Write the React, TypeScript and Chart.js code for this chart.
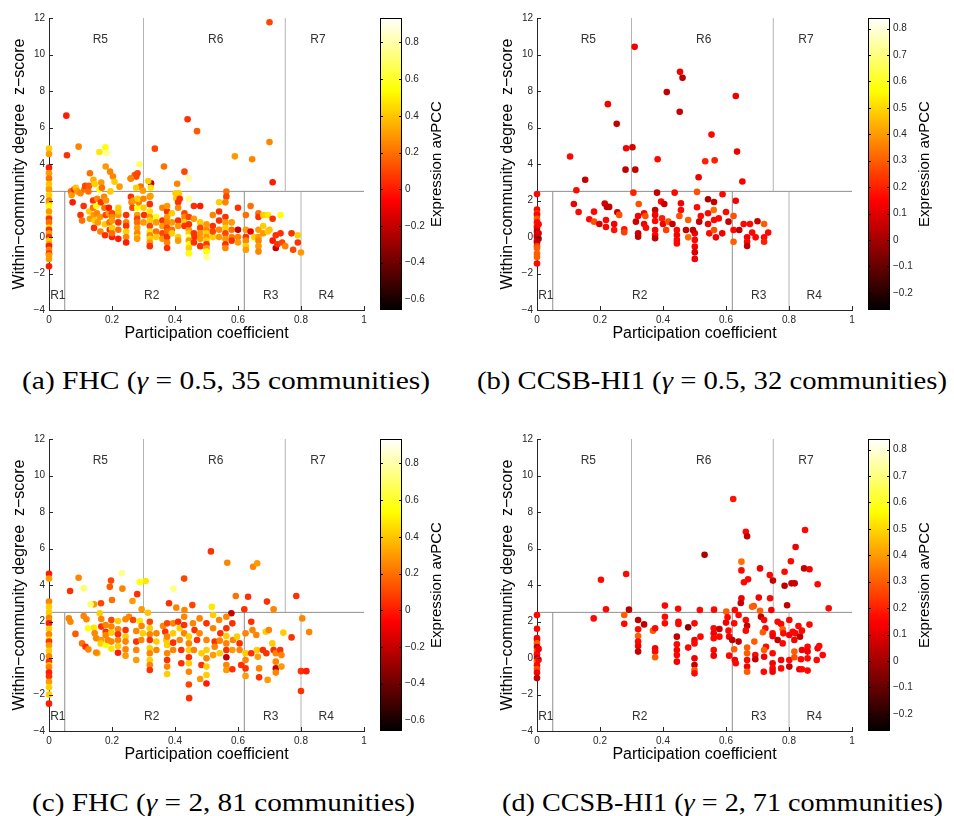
import React, { useEffect, useLayoutEffect, useRef } from "react";
import { Chart, registerables } from "chart.js";
Chart.register(...registerables);

type Pt = [number, number, number]; // [participation coefficient, z-score, avPCC]

const xTicks = [0, 0.2, 0.4, 0.6, 0.8, 1];
const yTicks = [-4, -2, 0, 2, 4, 6, 8, 10, 12];
const cbTicksFHC = [-0.6, -0.4, -0.2, 0, 0.2, 0.4, 0.6, 0.8];
const cbTicksCCSB = [-0.2, -0.1, 0, 0.1, 0.2, 0.3, 0.4, 0.5, 0.6, 0.7, 0.8];
const cbRangeFHC = [-0.658, 0.933];
const cbRangeCCSB = [-0.265, 0.84];

// region boundaries [x1, y1, x2, y2]
const regionLines = [
  [0.05, -4, 0.05, 2.5],
  [0.62, -4, 0.62, 2.5],
  [0.8, -4, 0.8, 2.5],
  [0.3, 2.5, 0.3, 12],
  [0.75, 2.5, 0.75, 12],
  [0, 2.5, 1, 2.5],
];
const regionNames = ["R1", "R2", "R3", "R4", "R5", "R6", "R7"];
const regionNameX = [0.028, 0.326, 0.704, 0.88, 0.163, 0.529, 0.854];
const regionNameY = [-3.24, -3.24, -3.24, -3.24, 10.79, 10.79, 10.79];

const fhcGamma05: Pt[] = [
  [0,4.85,0.42],[0,4.55,0.3],[0,3.8,0],[0,3.5,0.3],[0,3.2,0.2],[0,2.9,0.4],[0,2.7,0.42],[0,2.6,0.3],[0,2.3,0.42],[0,2.0,0.25],[0,1.85,0.3],[0,1.7,0.55],[0,1.4,0.3],[0,1.1,0.42],[0,1.0,0.05],[0,0.8,0.2],[0,0.5,0.48],[0,0.4,0.05],[0,0.2,0.3],[0,0,0.05],[0,-0.2,0.42],[0,-0.4,0.3],[0,-0.5,0],[0,-0.7,0.25],[0,-0.9,0.05],[0,-1.0,0.3],[0,-1.2,0.3],[0,-1.6,0],
  [0.70,11.77,0.1],[0.055,6.65,0],[0.44,6.45,0.05],[0.47,5.8,0.15],[0.70,5.2,0.25],[0.59,4.42,0.3],[0.645,4.26,0.25],[0.71,3.0,0],[0.057,4.48,0.05],[0.094,4.95,0.25],[0.16,4.66,0.48],[0.179,4.92,0.55],[0.183,4.6,0.75],[0.18,3.86,0.3],[0.287,3.99,0.7],[0.336,4.84,0.1],[0.365,3.86,0.2],[0.43,3.58,0.1],[0.444,3.22,0.8],[0.407,2.92,0.25],[0.324,2.94,-0.2],[0.315,3.07,0.42],[0.13,3.49,0.2],[0.141,3.13,0.35],[0.166,2.98,0.3],[0.194,3.58,0.25],[0.203,3.31,0.25],[0.208,3.03,0.42],[0.224,2.76,0.3],[0.259,3.2,0.25],[0.272,3.4,0.15],[0.281,3.49,0.1],[0.277,3.31,0.1],[0.291,2.76,0.2],[0.277,2.7,0.42],[0.298,2.54,0.3],[0.322,2.25,0.3],[0.323,2.7,0.48],[0.563,2.49,0.2],[0.563,2.21,0.1],[0.402,2.39,0.42],[0.404,2.12,0.42],
  [0.07,2.5,0.2],[0.072,2.3,0.3],[0.075,1.9,0],[0.08,2.6,0.05],[0.085,2.7,0.4],[0.09,2.5,0.3],[0.1,2.4,0.25],[0.1,1.2,0.05],[0.105,0.9,0.2],[0.11,1.7,0.05],[0.112,2.6,0.2],[0.115,2.8,0.1],
  [0.125,2.5,0.2],[0.127,2.8,0.15],[0.128,1.4,0.42],[0.13,1.0,0.3],[0.14,2.0,0.05],[0.14,1.6,0.2],[0.142,1.2,0.3],[0.143,0.5,0.05],[0.145,0.9,0.42],[0.145,2.9,0.42],
  [0.15,1.7,0.55],[0.152,1.3,0.25],[0.153,2.1,0.25],[0.155,0.8,0.3],[0.16,2.6,0.55],[0.162,1.1,0.3],[0.163,0.3,0.25],[0.165,1.9,0.05],[0.168,2.7,0.2],
  [0.175,2.2,0.25],[0.176,1.6,0.2],[0.177,0.7,0.42],[0.178,0.1,0.05],[0.18,1.2,0.1],[0.181,2.0,0.3],[0.19,1.3,0.3],[0.19,1.6,0],[0.192,0.8,0.2],[0.193,0.4,0.05],[0.195,2.5,0.42],
  [0.2,1.3,0.1],[0.2,1.1,0.25],[0.2,0.9,0.3],[0.2,0.5,0.42],[0.2,0,0],[0.2,0.2,0.2],
  [0.22,1.6,0.42],[0.22,1.2,0.3],[0.22,0.8,0.05],[0.22,0.4,0.2],[0.22,1.4,0.4],[0.22,-0.1,0],
  [0.245,1.2,0.05],[0.245,0.8,0.25],[0.245,0.6,0.05],[0.245,0.3,0.42],[0.245,0,0.25],[0.245,-0.3,0],
  [0.26,2.2,0.05],[0.262,1.9,0.25],[0.265,1.6,0.1],[0.268,2.0,0.3],[0.26,3.2,0.25],
  [0.28,1.2,0.3],[0.28,1.0,0.1],[0.28,0.8,0.2],[0.28,0.5,0.3],[0.28,0.2,0.25],[0.28,0,0.4],[0.28,-0.1,0.3],[0.28,1.6,0.55],[0.285,1.9,0.25],[0.282,2.1,0.42],
  [0.3,1.6,0.42],[0.3,0.8,0.3],[0.3,2.1,0.25],[0.302,1.2,0.05],
  [0.32,2.2,0.3],[0.32,1.8,0.05],[0.32,1.4,0.48],[0.32,1.1,0.3],[0.32,0.9,0.42],[0.32,0.6,0.1],[0.32,0.3,0.48],[0.32,0.1,0.25],[0.32,-0.1,0.42],[0.32,-0.3,0.3],[0.32,-0.5,0.05],
  [0.34,1.1,0.55],[0.34,0.8,0.3],[0.34,0.3,0.2],[0.34,0,0.42],
  [0.36,0.9,0.05],[0.36,0.6,0.3],[0.36,0.2,0.1],[0.36,-0.1,0.3],[0.36,1.6,0.25],
  [0.375,1.4,0.05],[0.375,1.1,0.3],[0.375,0.8,0.25],[0.375,0.5,0.1],[0.375,0.3,0.2],[0.375,0,0.05],[0.375,-0.3,0.25],[0.375,-0.6,0.05],[0.375,1.7,0.3],
  [0.39,1.3,0.42],[0.39,0.8,0.3],[0.39,0.4,0.2],[0.39,0.2,0.42],
  [0.41,1.9,0.05],[0.41,1.6,0.25],[0.41,0.9,0.05],[0.41,0.6,0.3],[0.41,0,0.42],[0.41,-0.2,0.3],[0.412,2.4,0.42],[0.415,2.1,0.05],
  [0.43,1.3,0.1],[0.43,1.1,0.25],[0.43,0.8,0.42],[0.43,0.6,0.05],
  [0.444,2.1,0.75],[0.444,1.1,0.1],[0.444,0.4,0.3],[0.444,0.2,0.42],[0.444,0,0.7],[0.444,-0.2,0.3],[0.444,-0.4,0.55],[0.444,-0.6,0.42],[0.444,-0.9,0.55],[0.444,0.7,0.05],
  [0.46,1.7,0.05],[0.46,1.0,0.3],[0.46,0.2,0.05],[0.462,0,0.05],[0.46,-0.3,0.05],
  [0.48,1.7,0],[0.48,0.8,0.42],[0.48,0.5,0.1],[0.48,0.2,0.3],[0.48,-0.1,0.3],[0.48,-0.5,0.05],
  [0.5,0.4,0.25],[0.5,0.2,0.42],[0.5,0,0.3],[0.5,-0.2,0.42],[0.5,-0.4,0.05],[0.5,-0.6,0.3],[0.5,-0.8,0.55],[0.5,-1.1,0.75],[0.5,0.7,0.3],
  [0.52,1.2,0.25],[0.52,0.6,0.05],[0.52,0,0.42],[0.52,0.3,0.1],
  [0.54,1.9,0.42],[0.54,1.4,0.05],[0.54,0.9,0.05],[0.54,0.4,0.25],[0.54,0,0.3],
  [0.56,1.9,0.25],[0.56,1.1,0.05],[0.56,0.8,0.3],[0.56,0.5,0.42],[0.56,0.2,0.1],[0.56,-0.1,0.3],[0.56,-0.4,0.05],[0.56,-0.6,0.25],
  [0.58,0.8,0.3],[0.58,0.4,0.2],[0.58,0,0.25],[0.58,-0.2,0.05],
  [0.6,1.6,0.05],[0.6,0.4,-0.2],[0.6,0,0.25],[0.6,-0.3,0.3],
  [0.625,1.2,0.2],[0.625,0.4,0.3],[0.625,0,0.05],[0.625,-0.2,0.25],[0.625,-0.5,0.42],[0.625,-0.7,0.3],
  [0.64,1.7,0.2],[0.64,0.3,-0.1],[0.65,-0.1,0.8],[0.652,0,0.42],
  [0.665,1.3,0.2],[0.665,1.1,0.05],[0.665,0.4,0.3],[0.665,0,0.3],[0.665,-0.2,0.25],[0.665,-0.5,0.3],[0.665,-0.8,0.25],
  [0.68,1.2,0.42],[0.68,0.6,0.42],[0.68,0.2,0.3],[0.695,1.2,0.48],[0.695,0.3,0.42],[0.7,0.4,0.4],
  [0.71,1.0,0.05],[0.71,-0.2,0],[0.72,-0.6,-0.2],[0.72,0.1,0.05],[0.725,-0.4,0.05],[0.735,1.2,0.55],[0.735,0.2,0.05],[0.74,-0.3,0.1],
  [0.75,-0.5,0.25],[0.77,0.2,0.05],[0.775,-0.7,0.1],[0.79,0.1,0.42],[0.79,-0.3,0.05],[0.8,-0.85,0.3],
];

const ccsbGamma05: Pt[] = [
  [0,2.35,0.16],[0,1.5,0.16],[0,1.3,0.24],[0,1.2,0.16],[0,1.0,0.3],[0,0.8,0.16],[0,0.6,0.24],[0,0.5,0.13],[0,0.3,0.04],[0,0.1,0.1],[0,0,0.04],[0,-0.2,0.13],[0,-0.3,0.04],[0,-0.5,0.24],[0,-0.6,0.3],[0,-0.9,0.3],[0,-1.1,0.3],[0,-1.45,0.16],[0.005,0.2,0.1],[0.005,-0.1,0.04],[0.005,0.7,0.16],
  [0.31,10.42,0.13],[0.454,9.05,0.13],[0.462,8.72,0.04],[0.412,7.94,0.05],[0.631,7.73,0.12],[0.225,7.28,0.14],[0.453,6.86,0.05],[0.253,6.2,0.05],[0.554,5.61,0.16],[0.635,4.68,0.12],[0.105,4.41,0.16],[0.283,4.86,0.14],[0.303,4.92,0.08],[0.383,4.26,0.16],[0.534,4.15,0.2],[0.564,4.2,0.2],[0.281,3.69,0.05],[0.312,3.69,0.05],[0.153,3.14,0.05],[0.513,3.27,0.12],[0.652,3.04,0.14],
  [0.125,2.56,0.16],[0.306,2.43,0.2],[0.381,2.43,0.05],[0.437,2.43,0.16],[0.508,2.47,0.28],[0.589,2.34,0.16],[0.631,1.99,0.13],
  [0.117,1.81,0.12],[0.132,1.37,0.16],[0.166,0.97,0.16],[0.181,1.39,0.16],[0.181,0.84,0.28],[0.198,0.71,0.08],[0.215,1.83,0.08],[0.222,1.65,0.05],[0.229,1.65,0.05],[0.219,0.93,0.16],[0.219,0.55,0.16],[0.245,0.71,0.13],[0.245,0.38,0.18],[0.255,1.35,0.05],[0.261,1.21,0.28],[0.277,0.42,0.18],[0.277,0.26,0.25],
  [0.314,0.84,0.06],[0.321,1.15,0.13],[0.321,0.2,0.06],[0.321,0.02,0.05],[0.323,1.81,0.28],[0.34,1.3,0.13],[0.344,1.15,0.28],[0.34,0.71,0.13],[0.346,0.51,0.16],
  [0.375,1.48,0.06],[0.375,1.21,0.13],[0.375,0.88,0.16],[0.375,0.38,0.13],[0.375,0.11,0.16],[0.375,-0.07,0.05],[0.394,1.94,0.16],[0.404,1.81,0.05],[0.397,1.02,0.2],[0.4,0.71,0.13],[0.41,0.38,0.25],[0.417,0.84,0.28],
  [0.43,0.71,0.05],[0.444,0.38,0.16],[0.444,0.11,0.13],[0.444,-0.16,0.16],[0.444,-0.35,0.16],[0.457,1.85,0.13],[0.457,1.48,0.16],[0.452,1.15,0.28],[0.473,0.38,0.05],[0.48,0.93,0.3],[0.48,-0.02,0.32],
  [0.501,0.2,0.13],[0.501,-0.16,0.16],[0.501,-0.53,0.13],[0.501,-0.84,0.08],[0.501,-1.2,0.13],[0.495,0.38,0.05],[0.508,1.63,0.16],[0.515,0.84,0.05],[0.52,1.15,0.16],
  [0.543,2.07,0.02],[0.543,1.3,0.16],[0.543,0.71,0.13],[0.547,0.2,0.16],[0.561,1.48,0.33],[0.562,1.92,0.05],[0.562,0.93,0.16],[0.562,0.38,0.28],[0.568,-0.02,0.13],
  [0.577,1.02,0.16],[0.588,0.2,0.13],[0.6,1.37,0.16],[0.608,0.84,0.05],[0.624,1.15,0.28],[0.624,0.38,0.16],[0.624,-0.26,0.3],[0.642,0.38,0.05],[0.656,0.71,0.16],
  [0.667,-0.02,0.13],[0.667,-0.26,0.16],[0.667,-0.49,0.05],[0.676,0.71,0.16],[0.683,0.24,0.16],[0.694,-0.02,0.16],[0.7,0.86,0.05],[0.721,0.71,0.3],[0.721,-0.02,0.16],[0.721,-0.26,0.2],[0.734,0.24,0.16],
];

const fhcGamma2: Pt[] = [
  [0,4.62,0],[0,4.35,0.3],[0,3.1,0.25],[0,2.8,0.42],[0,2.5,0.42],[0,2.2,0.25],[0,2.0,0.3],[0,1.9,0],[0,1.6,0.42],[0,1.3,0.25],[0,1.0,0.48],[0,0.9,0.05],[0,0.7,0.3],[0,0.4,0.42],[0,0.1,0.25],[0,-0.2,0.05],[0,-0.4,0.42],[0,-0.5,0.25],[0,-0.8,0],[0,-1.0,0.05],[0,-1.3,0.3],[0,-1.6,0.42],[0,-2.0,0.42],[0,-2.5,0],
  [0.514,5.84,0.05],[0.566,5.22,0.25],[0.648,5.0,0.25],[0.661,5.19,0.3],[0.785,3.4,0.05],[0.632,3.36,0.05],[0.593,3.4,0.2],[0.692,3.09,0.05],[0.713,2.67,0.25],[0.62,2.67,0.05],[0.579,2.45,-0.2],
  [0.429,4.35,0.1],[0.395,3.8,0.75],[0.307,4.22,0.48],[0.288,4.16,0.55],[0.231,4.64,0.75],[0.197,4.24,0.1],[0.193,3.9,0.15],[0.094,4.4,0.25],[0.11,3.82,0.7],[0.067,3.67,0.05],[0.233,3.8,0.25],[0.28,3.5,0.05],[0.165,3.0,0.1],[0.143,2.94,0.3],[0.132,2.94,0.7],[0.2,3.18,0.2],[0.265,3.12,0.3],[0.381,3.0,0.05],[0.404,2.76,0.25],[0.455,2.9,0.1],[0.517,2.81,0.48],[0.294,2.67,0.3],[0.314,2.48,0.4],[0.43,2.63,0.25],
  [0.445,-2.2,0.05],[0.444,-1.45,0.1],[0.5,-1.4,0],[0.48,-1.15,0.3],[0.694,-1.2,0.3],[0.8,-0.72,0.05],[0.817,-0.72,0],[0.8,-1.81,0.05],[0.804,2.17,0.25],[0.826,1.42,0.25],[0.77,1.13,0.05],[0.744,1.39,0.42],
  [0.063,2.17,0.25],[0.068,1.99,0.25],[0.084,1.32,0.15],[0.105,0.8,0.2],[0.116,0.62,0.05],[0.125,0.47,0.25],[0.11,2.3,0.25],[0.119,2.12,0.25],[0.124,1.63,0.55],
  [0.143,1.66,0.48],[0.145,1.35,0.25],[0.15,1.08,0.25],[0.154,0.26,0.42],[0.15,0.3,0.25],[0.161,2.45,0.42],[0.166,2.14,0.25],[0.166,1.72,0.05],[0.166,0.99,0.3],[0.164,0.8,0.42],
  [0.18,1.81,0.25],[0.18,1.44,0.05],[0.18,1.26,0.25],[0.18,0.71,0.55],[0.187,0.99,0.25],
  [0.198,2.08,0.1],[0.198,1.72,0.25],[0.198,1.39,0.42],[0.198,0.9,0.25],[0.198,0.51,0.48],
  [0.219,2.03,0.42],[0.219,1.57,0.25],[0.219,1.3,0.05],[0.219,0.99,0.25],[0.219,0.66,0.42],[0.219,0.29,0],
  [0.243,2.12,0.25],[0.243,1.53,0.05],[0.243,1.17,0.42],[0.243,0.9,0.25],[0.243,0.47,0.25],[0.243,0.13,0.3],
  [0.254,2.26,0.25],[0.267,2.08,0.1],[0.277,1.48,0.25],[0.277,0.9,0.05],[0.277,0.44,0.25],[0.277,-0.11,0.3],
  [0.288,2.03,0.48],[0.294,1.75,0.25],[0.298,1.35,0.42],[0.293,0.99,0.25],
  [0.32,1.99,0.1],[0.32,1.63,0.42],[0.32,1.3,0.25],[0.32,0.99,0.05],[0.32,0.53,0.42],[0.32,0.26,0.25],[0.32,-0.11,0.42],[0.32,-0.38,0.25],[0.32,-0.66,0.05],
  [0.341,1.35,0.25],[0.341,0.9,0.42],[0.341,0.44,0.25],[0.362,1.75,0.25],[0.369,1.44,0.05],[0.372,0.99,0.42],
  [0.375,1.9,0.1],[0.375,1.17,0.25],[0.375,0.71,0.42],[0.375,0.26,0.25],[0.375,-0.11,0.05],[0.375,-0.47,0.25],[0.375,-0.88,0.42],
  [0.394,1.9,0.25],[0.394,1.35,0.42],[0.394,0.84,0.05],[0.394,0.44,0.25],
  [0.41,1.99,0.05],[0.415,1.63,0.42],[0.415,0.99,0.25],[0.42,0.44,0.05],[0.42,-0.29,0.05],[0.429,2.26,0.25],[0.429,1.81,0.05],[0.429,1.35,0.25],
  [0.444,1.17,0.42],[0.444,0.8,0.25],[0.444,0.44,0.42],[0.444,0.04,0.05],[0.444,-0.29,0.42],[0.444,-0.75,0.25],
  [0.457,1.9,0.25],[0.462,1.53,0.05],[0.46,0.44,0.25],[0.47,0.99,0.05],[0.478,2.17,0.25],[0.478,1.35,0.25],[0.484,0.26,0.42],[0.484,-0.38,0.05],
  [0.5,1.9,0.05],[0.5,0.99,0.25],[0.5,0.44,0.42],[0.5,-0.02,0.25],[0.5,-0.47,0.42],[0.5,-0.93,0.42],
  [0.521,2.36,0.42],[0.521,1.63,0.25],[0.526,0.9,0.05],[0.526,0.62,0.25],[0.521,0.16,0.3],
  [0.54,2.08,0.25],[0.544,1.35,0.05],[0.542,0.95,0.25],[0.542,0.26,0.42],
  [0.563,2.26,0.25],[0.563,1.63,0.05],[0.563,1.2,0.42],[0.563,0.8,0.25],[0.563,0.44,0.05],[0.563,0.04,-0.2],[0.563,-0.38,0.25],[0.563,-0.66,0.3],
  [0.582,1.9,0.05],[0.584,0.99,0.25],[0.582,0.44,0.3],[0.582,-0.62,0.05],[0.597,1.17,0.42],[0.605,0.8,0.05],[0.605,0.44,0.25],[0.61,-0.38,0.05],
  [0.624,1.35,0.25],[0.624,0.26,0.42],[0.624,-0.11,0.25],[0.624,-0.57,0.05],[0.624,-0.99,0.3],[0.642,1.99,0.05],[0.646,1.53,0.25],[0.642,0.26,0.05],
  [0.658,1.26,0.25],[0.66,0.44,0.42],[0.663,0.07,0.3],[0.667,-0.57,0.25],[0.667,-1.06,0.05],[0.679,0.44,0.05],[0.688,1.44,0.42],[0.69,0.26,0.05],
  [0.698,1.53,0.25],[0.709,0.8,0.42],[0.713,0.44,0.05],[0.72,0.26,0.25],[0.72,-0.2,0.25],[0.72,-0.57,-0.2],[0.72,-0.8,0.25],[0.734,0.44,0.05],[0.738,0.16,0.25],[0.738,-0.47,0.3],
];

const ccsbGamma2: Pt[] = [
  [0,2.35,0.16],[0,1.6,0.16],[0,1.1,0.16],[0,1.0,0.13],[0,0.8,0.3],[0,0.6,0.05],[0,0.4,0.28],[0,0.2,0.16],[0,0,0.05],[0,-0.2,0.3],[0,-0.4,0.16],[0,-0.6,0.28],[0,-0.8,0.13],[0,-1.1,0.05],[0.005,0.5,0.13],[0.005,-0.1,0.16],
  [0.623,8.71,0.18],[0.663,6.92,0.16],[0.667,6.67,0.04],[0.851,7.01,0.16],[0.821,6.08,0.13],[0.532,5.66,0.02],[0.806,5.3,0.16],[0.649,5.28,0.33],[0.848,4.91,0.06],[0.865,4.86,0.13],[0.708,4.91,0.13],[0.786,4.73,0.16],[0.739,4.55,0.16],[0.649,4.8,0.16],[0.283,4.6,0.16],[0.203,4.29,0.16],[0.749,4.24,0.06],[0.67,4.31,0.16],[0.657,4.15,0.16],[0.808,4.09,0.06],[0.818,4.09,0.06],[0.891,4.04,0.16],[0.786,3.96,0.04],
  [0.704,3.31,0.13],[0.74,3.27,0.16],[0.649,3.27,0.13],[0.647,3.01,0.05],[0.688,2.85,0.28],[0.683,2.81,0.3],[0.794,2.89,0.05],[0.926,2.72,0.16],[0.219,2.67,0.16],[0.292,2.65,0.04],[0.406,2.87,0.16],[0.448,2.7,0.16],[0.517,2.63,0.16],[0.562,2.65,0.16],[0.601,2.54,0.3],[0.628,2.63,0.16],[0.708,2.59,0.3],[0.744,2.63,0.13],
  [0.18,2.17,0.16],[0.277,2.36,0.3],[0.277,1.88,0.16],[0.321,2.08,0.05],[0.321,1.57,0.16],[0.321,1.2,0.3],[0.321,0.9,0.16],[0.321,0.66,0.13],[0.321,0.35,0.05],[0.34,1.84,0.05],
  [0.368,1.5,0.3],[0.375,1.63,0.16],[0.375,0.53,0.13],[0.375,0.35,0.16],[0.375,0.04,0.3],[0.406,2.26,0.16],[0.406,1.9,0.16],
  [0.444,1.17,0.05],[0.444,0.75,0.16],[0.444,0.44,0.13],[0.444,0.16,0.16],[0.444,-0.2,0.13],[0.449,1.99,0.16],[0.449,1.86,0.16],[0.48,1.68,-0.03],[0.48,0.57,0.16],
  [0.5,1.9,0.16],[0.5,0.99,0.13],[0.5,0.8,0.16],[0.5,-0.02,0.13],[0.5,-0.38,0.05],[0.5,-0.66,0.3],[0.5,-0.84,0.16],[0.519,1.17,0.16],
  [0.561,1.63,0.16],[0.561,1.35,0.13],[0.561,1.08,0.16],[0.561,0.44,0.16],[0.561,0.13,0.13],[0.579,1.59,0.05],[0.579,1.17,0.16],
  [0.6,1.94,0.13],[0.605,2.23,0.16],[0.608,1.5,0.16],[0.61,1.17,0.13],[0.61,0.13,0.16],[0.62,0.99,0.05],[0.626,1.9,0.16],[0.626,0.48,0.3],[0.628,-0.11,0.13],[0.631,-0.29,0.16],[0.64,0.9,0.05],[0.64,2.36,0.16],
  [0.663,2.08,0.16],[0.667,1.77,0.05],[0.663,1.5,0.16],[0.667,0.57,0.3],[0.667,0.26,0.3],[0.667,-0.11,0.16],[0.667,-0.47,0.13],[0.667,-0.75,0.3],[0.69,0.9,0.3],[0.693,0.16,0.16],[0.693,-0.07,0.05],
  [0.711,2.26,0.05],[0.721,2.08,0.16],[0.725,1.63,0.16],[0.717,1.41,0.3],[0.727,0.62,0.16],[0.721,0.44,0.3],[0.721,0.07,0.13],[0.72,-0.75,0.16],
  [0.748,1.35,0.16],[0.748,1.2,0.13],[0.748,0.26,0.16],[0.748,-0.29,0.13],[0.748,-0.57,0.16],[0.748,-0.75,0.13],
  [0.764,1.99,0.16],[0.775,1.86,0.16],[0.78,1.57,0.3],[0.782,1.35,0.16],[0.764,0.99,0.05],[0.78,0.8,0.16],[0.775,-0.11,0.13],[0.775,-0.57,0.16],
  [0.801,2.08,0.16],[0.801,1.26,0.13],[0.801,-0.11,0.16],[0.801,-0.47,0.05],[0.812,1.44,0.16],[0.82,1.35,0.16],[0.817,0.99,0.13],[0.817,0.35,0.3],[0.817,0.04,0.28],
  [0.83,1.75,0.16],[0.841,1.5,0.16],[0.835,1.17,0.05],[0.841,0.44,0.13],[0.838,-0.07,0.16],[0.833,-0.62,0.13],[0.841,-0.62,0.16],
  [0.865,1.83,0.16],[0.859,0.62,0.16],[0.859,0.35,0.13],[0.859,-0.02,0.16],[0.859,-0.69,0.16],[0.891,0.53,0.13],[0.896,0.66,0.16],[0.888,-0.11,0.16],[0.907,0.16,0.16],
];

const SANS = '"Liberation Sans", Arial, Helvetica, sans-serif';
const TXT = "#262626";

function hot(v: number, lo: number, hi: number): string {
  const t = (v - lo) / (hi - lo);
  const cl = (a: number) => Math.max(0, Math.min(1, a));
  const r = cl(t / 0.375), g = cl((t - 0.375) / 0.375), b = cl((t - 0.75) / 0.25);
  return `rgb(${Math.round(r * 255)},${Math.round(g * 255)},${Math.round(b * 255)})`;
}

function fmt(v: number): string {
  const s = parseFloat(Number(v).toFixed(2)).toString();
  return s.replace("-", "\u2212");
}

const SW = 372, SH = 345, CW = 80;

function Panel({ ox, oy, points, cRange, cTicks }: { ox: number; oy: number; points: Pt[]; cRange: number[]; cTicks: number[] }) {
  const sRef = useRef<HTMLCanvasElement>(null);
  const cRef = useRef<HTMLCanvasElement>(null);

  useEffect(() => {
    const [lo, hi] = cRange;
    const scatterPlugin = {
      id: "regions",
      afterDatasetsDraw(chart: any) {
        const { ctx, scales: { x, y } } = chart;
        ctx.save();
        ctx.font = `12px ${SANS}`;
        ctx.fillStyle = "#333";
        ctx.textAlign = "center";
        ctx.textBaseline = "middle";
        regionNames.forEach((n, i) => ctx.fillText(n, x.getPixelForValue(regionNameX[i]), y.getPixelForValue(regionNameY[i])));
        ctx.restore();
      },
      afterDraw(chart: any) {
        const { ctx, chartArea: a, scales: { x, y } } = chart;
        ctx.save();
        ctx.strokeStyle = TXT;
        ctx.lineWidth = 1;
        ctx.beginPath();
        xTicks.forEach((v) => {
          const px = Math.round(x.getPixelForValue(v)) + 0.5;
          ctx.moveTo(px, a.bottom); ctx.lineTo(px, a.bottom - 4);
        });
        yTicks.forEach((v) => {
          const py = Math.round(y.getPixelForValue(v)) + 0.5;
          ctx.moveTo(a.left, py); ctx.lineTo(a.left + 4, py);
        });
        ctx.stroke();
        ctx.restore();
      },
    };
    const lineSets = regionLines.map((l, i) => ({
      data: [{ x: l[0], y: l[1] }, { x: l[2], y: l[3] }],
      showLine: true,
      borderColor: i === 3 || i === 4 || i === 2 ? "#b4b4b4" : "#8f8f8f",
      borderWidth: 1,
      pointRadius: 0,
      order: 2,
      clip: false,
    }));
    const sc = new Chart(sRef.current!, {
      type: "scatter",
      data: {
        datasets: [
          ...lineSets,
          {
            data: points.map((p) => ({ x: p[0], y: p[1] })),
            backgroundColor: points.map((p) => hot(p[2], lo, hi)),
            borderWidth: 0,
            pointRadius: 3.3,
            pointBorderWidth: 0,
            order: 1,
            clip: false,
          },
        ] as any,
      },
      options: {
        animation: false,
        responsive: false,
        events: [],
        plugins: { legend: { display: false }, tooltip: { enabled: false } },
        layout: { padding: { top: 18, right: 8, left: 0, bottom: 0 } },
        scales: {
          x: {
            type: "linear", min: 0, max: 1,
            afterBuildTicks: (s: any) => { s.ticks = xTicks.map((v) => ({ value: v })); },
            afterFit: (s: any) => { s.height = 35; },
            ticks: { font: { family: SANS, size: 10 }, color: TXT, padding: 4, maxRotation: 0, autoSkip: false, callback: (v: any) => fmt(v) },
            grid: { display: false, drawTicks: false },
            border: { display: true, color: TXT, width: 1 },
            title: { display: true, text: "Participation coefficient", font: { family: SANS, size: 16 }, color: "#000", padding: { top: 0, bottom: 2 } },
          },
          y: {
            type: "linear", min: -4, max: 12,
            afterBuildTicks: (s: any) => { s.ticks = yTicks.map((v) => ({ value: v })); },
            afterFit: (s: any) => { s.width = 49; },
            ticks: { font: { family: SANS, size: 10 }, color: TXT, padding: 4, autoSkip: false, callback: (v: any) => fmt(v) },
            grid: { display: false, drawTicks: false },
            border: { display: true, color: TXT, width: 1 },
            title: { display: true, text: "Within\u2212community degree  z\u2212score", font: { family: SANS, size: 16 }, color: "#000", padding: { top: 10, bottom: 0 } },
          },
        },
      } as any,
      plugins: [scatterPlugin],
    });

    const cbPlugin = {
      id: "colorbar",
      beforeDatasetsDraw(chart: any) {
        const { ctx, chartArea: a } = chart;
        const g = ctx.createLinearGradient(0, a.bottom, 0, a.top);
        g.addColorStop(0, "rgb(0,0,0)");
        g.addColorStop(0.375, "rgb(255,0,0)");
        g.addColorStop(0.75, "rgb(255,255,0)");
        g.addColorStop(1, "rgb(255,255,255)");
        ctx.save();
        ctx.fillStyle = g;
        ctx.fillRect(a.left, a.top, a.right - a.left, a.bottom - a.top);
        ctx.restore();
      },
      afterDraw(chart: any) {
        const { ctx, chartArea: a, scales: { y } } = chart;
        ctx.save();
        ctx.strokeStyle = "#000";
        ctx.lineWidth = 1;
        ctx.strokeRect(Math.round(a.left) + 0.5, Math.round(a.top) + 0.5, Math.round(a.right - a.left) - 1, Math.round(a.bottom - a.top) - 1);
        ctx.beginPath();
        cTicks.forEach((v) => {
          const py = Math.round(y.getPixelForValue(v)) + 0.5;
          ctx.moveTo(a.left, py); ctx.lineTo(a.left + 3, py);
          ctx.moveTo(a.right, py); ctx.lineTo(a.right - 3, py);
        });
        ctx.stroke();
        ctx.translate(a.right + 35, (a.top + a.bottom) / 2);
        ctx.rotate(-Math.PI / 2);
        ctx.font = `15px ${SANS}`;
        ctx.fillStyle = "#000";
        ctx.textAlign = "center";
        ctx.textBaseline = "middle";
        ctx.fillText("Expression avPCC", 0, 0);
        ctx.restore();
      },
    };
    const cb = new Chart(cRef.current!, {
      type: "scatter",
      data: { datasets: [] },
      options: {
        animation: false,
        responsive: false,
        events: [],
        plugins: { legend: { display: false }, tooltip: { enabled: false } },
        layout: { padding: { top: 18, right: 0, left: 8, bottom: 35 } },
        scales: {
          x: { display: false, min: 0, max: 1 },
          y: {
            position: "right", min: lo, max: hi,
            afterBuildTicks: (s: any) => { s.ticks = cTicks.map((v) => ({ value: v })); },
            afterFit: (s: any) => { s.width = CW - 8 - 22; },
            ticks: { font: { family: SANS, size: 10 }, color: TXT, padding: 3, autoSkip: false, callback: (v: any) => fmt(v) },
            grid: { display: false, drawTicks: false },
            border: { display: false },
          },
        },
      } as any,
      plugins: [cbPlugin],
    });
    return () => { sc.destroy(); cb.destroy(); };
  }, []);

  return (
    <>
      <canvas ref={sRef} width={SW} height={SH} style={{ position: "absolute", left: ox, top: oy, width: SW, height: SH }} />
      <canvas ref={cRef} width={CW} height={SH} style={{ position: "absolute", left: ox + SW, top: oy, width: CW, height: SH }} />
    </>
  );
}

// caption: left edge, right edge, vertical centre (page pixels)
function Caption({ x0, x1, cy, children }: { x0: number; x1: number; cy: number; children: React.ReactNode }) {
  const ref = useRef<HTMLSpanElement>(null);
  useLayoutEffect(() => {
    const el = ref.current;
    if (!el) return;
    const w = el.getBoundingClientRect().width;
    if (w > 0) el.style.transform = `scaleX(${(x1 - x0) / w})`;
  }, []);
  return (
    <div style={{ position: "absolute", left: x0, top: cy - 16, height: 32, lineHeight: "32px", whiteSpace: "nowrap" }}>
      <span ref={ref} style={{ display: "inline-block", transformOrigin: "0 50%", fontFamily: '"Liberation Serif", "Times New Roman", serif', fontSize: 25, color: "#000" }}>
        {children}
      </span>
    </div>
  );
}

export default function App() {
  return (
    <div style={{ position: "absolute", left: 0, top: 0, width: 954, height: 816, background: "#fff", overflow: "hidden" }}>
      <Panel ox={0} oy={0} points={fhcGamma05} cRange={cbRangeFHC} cTicks={cbTicksFHC} />
      <Panel ox={488} oy={0} points={ccsbGamma05} cRange={cbRangeCCSB} cTicks={cbTicksCCSB} />
      <Panel ox={0} oy={421} points={fhcGamma2} cRange={cbRangeFHC} cTicks={cbTicksFHC} />
      <Panel ox={488} oy={421} points={ccsbGamma2} cRange={cbRangeCCSB} cTicks={cbTicksCCSB} />
      <Caption x0={22} x1={430} cy={381}>(a) FHC (<i>γ</i> = 0.5, 35 communities)</Caption>
      <Caption x0={477} x1={947} cy={381}>(b) CCSB-HI1 (<i>γ</i> = 0.5, 32 communities)</Caption>
      <Caption x0={32} x1={415} cy={803}>(c) FHC (<i>γ</i> = 2, 81 communities)</Caption>
      <Caption x0={502} x1={943} cy={803}>(d) CCSB-HI1 (<i>γ</i> = 2, 71 communities)</Caption>
    </div>
  );
}
